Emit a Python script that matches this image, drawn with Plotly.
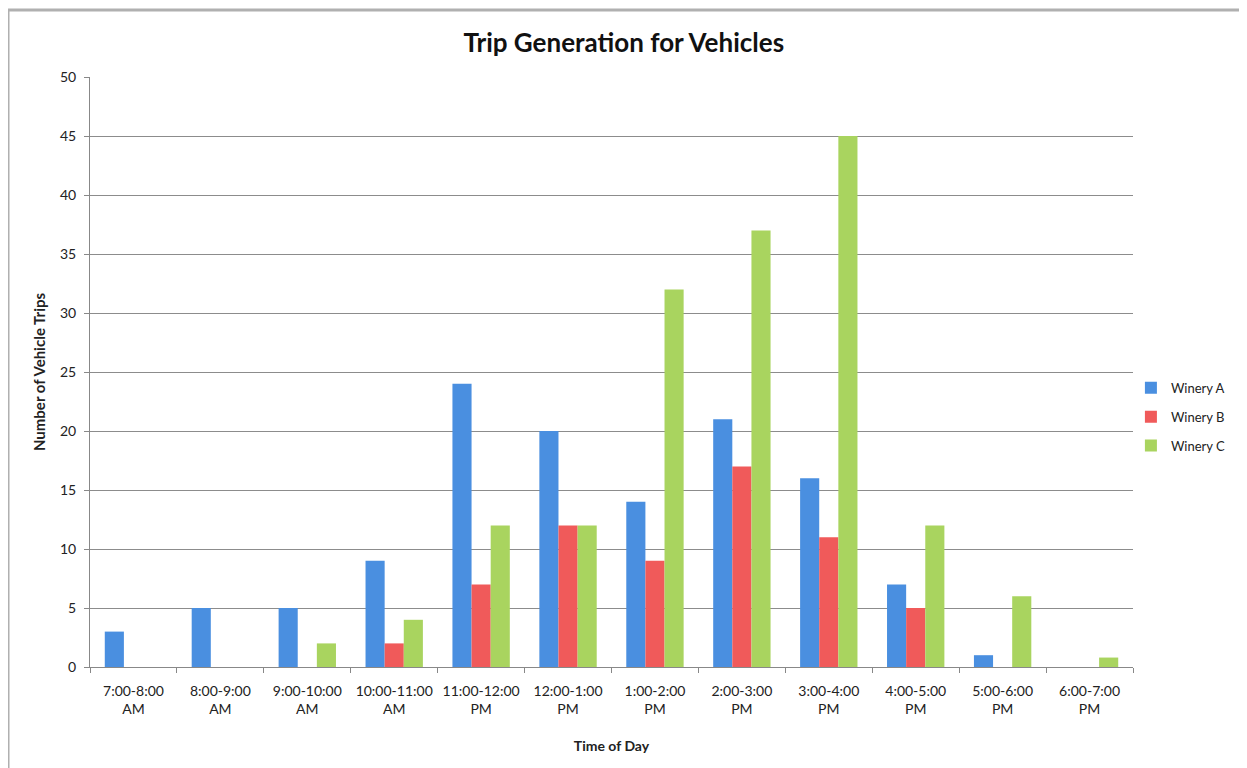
import plotly.graph_objects as go

categories = ["7:00-8:00<br>AM", "8:00-9:00<br>AM", "9:00-10:00<br>AM", "10:00-11:00<br>AM",
              "11:00-12:00<br>PM", "12:00-1:00<br>PM", "1:00-2:00<br>PM", "2:00-3:00<br>PM",
              "3:00-4:00<br>PM", "4:00-5:00<br>PM", "5:00-6:00<br>PM", "6:00-7:00<br>PM"]
winery_a = [3, 5, 5, 9, 24, 20, 14, 21, 16, 7, 1, 0]
winery_b = [0, 0, 0, 2, 7, 12, 9, 17, 11, 5, 0, 0]
winery_c = [0, 0, 2, 4, 12, 12, 32, 37, 45, 12, 6, 0.8]

series = [("Winery A", winery_a, "#4a8fe0"),
          ("Winery B", winery_b, "#f05a5a"),
          ("Winery C", winery_c, "#a9d45f")]

FONT = "Lato"
fig = go.Figure()
for name, vals, col in series:
    fig.add_trace(go.Bar(x=categories, y=vals, name=name, legendgroup=name,
                         marker=dict(color=col, line=dict(width=0))))

# page body adds an 8px margin, so the figure is sized to fit the window
fig.update_layout(
    width=1239, height=760,
    margin=dict(l=82, r=114, t=69, b=101, autoexpand=False),
    paper_bgcolor="white", plot_bgcolor="white",
    barmode="group", bargap=0.34, bargroupgap=0,
    font=dict(family=FONT, size=13, color="#222"),
    title=dict(text="<b>Trip Generation for Vehicles</b>", x=0.497, xref="container",
               y=0.954, yanchor="middle", font=dict(family=FONT, size=26, color="#111")),
    legend=dict(x=0.998, y=0.424, xanchor="left", yanchor="middle",
                font=dict(family=FONT, size=13, color="#222"), itemwidth=30,
                tracegroupgap=9, bgcolor="rgba(0,0,0,0)"),
    showlegend=True,
)
fig.update_xaxes(
    title=dict(text="<b>Time of Day</b>", font=dict(size=14), standoff=25),
    showline=True, linecolor="#888", linewidth=1,
    ticks="outside", tickson="boundaries", ticklen=5, tickcolor="#888",
    tickfont=dict(size=14), ticklabelstandoff=11, showgrid=False,
)
fig.update_yaxes(
    title=dict(text="<b>Number of Vehicle Trips</b>", font=dict(size=15), standoff=10),
    range=[0, 50], dtick=5, tick0=0,
    showline=True, linecolor="#888", linewidth=1,
    ticks="outside", ticklen=5, tickcolor="#888",
    showgrid=True, gridcolor="#8c8c8c", gridwidth=1, zeroline=False,
    tickfont=dict(size=14), ticklabelstandoff=5,
)
# outer chart frame (left and top edges visible)
fig.add_shape(type="line", xref="paper", yref="paper",
              x0=-0.0786, x1=-0.0786, y0=-0.18, y1=1.1136,
              line=dict(color="#b0b0b0", width=3), layer="below")
fig.add_shape(type="line", xref="paper", yref="paper",
              x0=-0.0786, x1=1.12, y0=1.1136, y1=1.1136,
              line=dict(color="#b0b0b0", width=3), layer="below")

fig.write_html("out.html")
